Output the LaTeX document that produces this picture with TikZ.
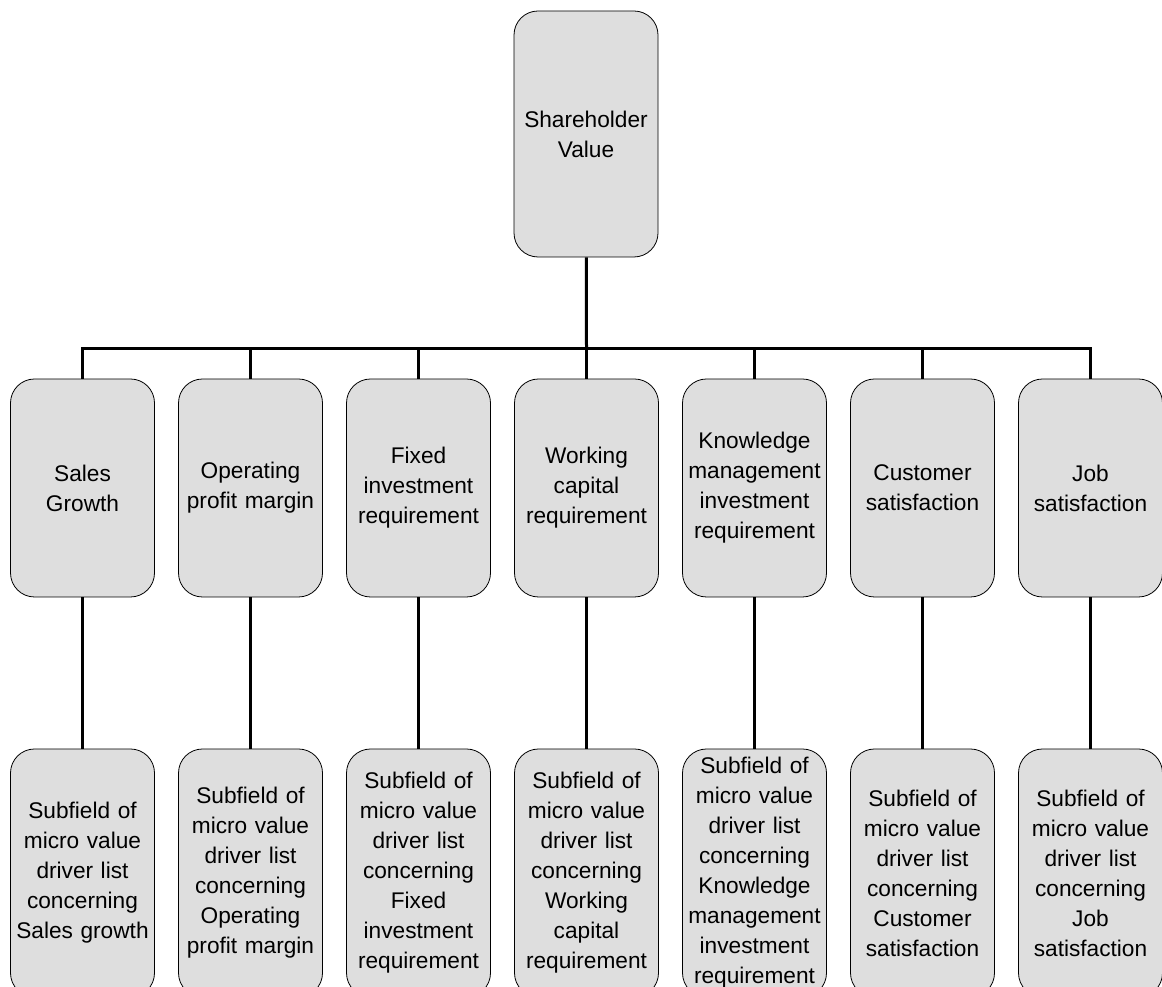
\documentclass[tikz,border=0pt]{standalone}
\usepackage{fontspec}
\setmainfont{Liberation Sans}
\definecolor{boxgray}{RGB}{222,222,222}

\begin{document}
\begin{tikzpicture}[x=0.75pt,y=0.75pt]

      \useasboundingbox (0,0) rectangle (1162,987);
      \clip (0,0) rectangle (1162,987);

      \begin{scope}[every node/.style={rectangle,rounded corners=18pt,draw,fill=boxgray,
          line width=0.6pt,inner sep=0pt,minimum width=108pt,text width=107pt,align=center,
          font=\fontsize{17}{22.5}\selectfont}]
        \node[minimum height=184.5pt] (0) at (586,853) {Shareholder\\Value};

        \begin{scope}[minimum height=163.5pt]
          \node (1) at (82.5,499)  {Sales\\Growth};
          \node (2) at (250.5,499) {Operating\\profit margin};
          \node (3) at (418.5,499) {Fixed\\investment\\requirement};
          \node (4) at (586.5,499) {Working\\capital\\requirement};
          \node (5) at (754.5,499) {Knowledge\\management\\investment\\requirement};
          \node (6) at (922.5,499) {Customer\\satisfaction};
          \node (7) at (1090.5,499) {Job\\satisfaction};
        \end{scope}

        \begin{scope}[minimum height=186pt]
          \node (8)  at (82.5,114)  {Subfield of\\micro value\\driver list\\concerning\\Sales growth};
          \node (9)  at (250.5,114) {Subfield of\\micro value\\driver list\\concerning\\Operating\\profit margin};
          \node (10) at (418.5,114) {Subfield of\\micro value\\driver list\\concerning\\Fixed\\investment\\requirement};
          \node (11) at (586.5,114) {Subfield of\\micro value\\driver list\\concerning\\Working\\capital\\requirement};
          \node (12) at (754.5,114) {Subfield of\\micro value\\driver list\\concerning\\Knowledge\\management\\investment\\requirement};
          \node (13) at (922.5,114) {Subfield of\\micro value\\driver list\\concerning\\Customer\\satisfaction};
          \node (14) at (1090.5,114) {Subfield of\\micro value\\driver list\\concerning\\Job\\satisfaction};
        \end{scope}
      \end{scope}

      \coordinate (bar) at (586.5,638);

      \begin{scope}[line width=2.25pt]
        \draw (0) -- (bar);
        \foreach \i in {1,...,7} {
          \draw (bar) -| (\i);
        }

        \begin{scope}[every edge/.style={draw}]
          \path (1) edge (8);
          \path (2) edge (9);
          \path (3) edge (10);
          \path (4) edge (11);
          \path (5) edge (12);
          \path (6) edge (13);
          \path (7) edge (14);
        \end{scope}
      \end{scope}

    \end{tikzpicture}
\end{document}
